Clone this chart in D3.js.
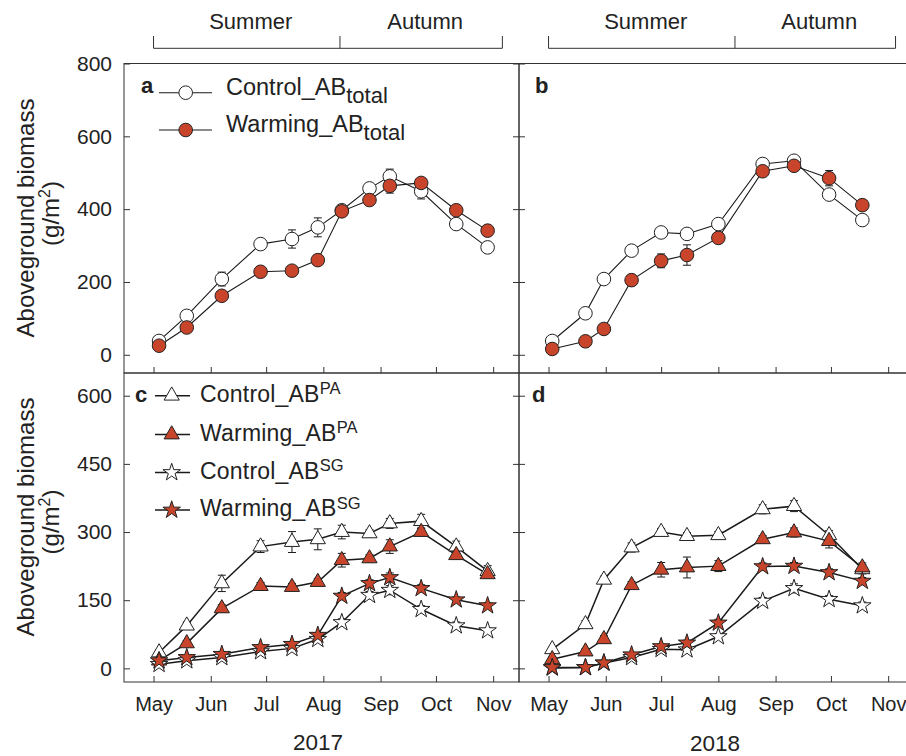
<!DOCTYPE html>
<html><head><meta charset="utf-8">
<script src="https://cdn.jsdelivr.net/npm/d3@7"></script>
<style>
body{margin:0;background:#fff}
svg{display:block}
text{font-family:"Liberation Sans",Arial,Helvetica,sans-serif;fill:#222}
</style>
</head><body>
<svg id="chart" width="906" height="756"></svg>
<script>
// ---------- data ----------
const dates2017 = ["2017-05-04","2017-05-19","2017-06-07","2017-06-28","2017-07-15","2017-07-29","2017-08-11","2017-08-26","2017-09-06","2017-09-23","2017-10-12","2017-10-29"];
const dates2018 = ["2018-05-03","2018-05-21","2018-05-31","2018-06-15","2018-07-01","2018-07-15","2018-08-01","2018-08-25","2018-09-11","2018-09-30","2018-10-18"];

const controlTotal2017 = [38,107,208,304,318,350,397,457,490,449,359,295];
const warmingTotal2017 = [25,75,162,228,231,260,394,425,464,472,397,341];
const controlTotal2018 = [38,114,208,286,336,332,359,524,533,440,370];
const warmingTotal2018 = [16,37,71,205,258,274,321,504,519,485,411];

const controlPA2017 = [35,94,187,268,278,284,300,297,319,324,268,214];
const warmingPA2017 = [17,55,132,181,179,190,238,242,268,300,249,207];
const controlSG2017 = [9,17,24,37,44,64,101,161,172,130,94,83];
const warmingSG2017 = [17,24,31,46,53,73,159,187,200,176,151,138];

const controlPA2018 = [42,97,195,266,300,291,293,350,357,293,218];
const warmingPA2018 = [20,37,64,183,217,222,225,284,299,280,222];
const controlSG2018 = [1,2,12,24,42,41,70,148,176,152,138];
const warmingSG2018 = [2,2,12,30,48,56,100,224,225,211,192];

// standard errors
const errCtrlTot2017 = [6,8,19,8,25,26,8,8,20,21,10,8];
const errWarmTot2017 = [5,6,8,8,8,8,8,8,20,8,8,8];
const errCtrlTot2018 = [5,6,8,8,8,8,8,8,12,8,8];
const errWarmTot2018 = [5,5,8,8,19,28,8,8,8,21,8];
const errCtrlPA2017 = [5,8,18,13,23,23,15,8,11,15,12,12];
const errWarmPA2017 = [4,6,8,8,8,8,15,8,15,8,8,8];
const errCtrlSG2017 = [4,4,5,5,5,6,8,8,10,8,8,6];
const errWarmSG2017 = [4,4,5,5,5,6,8,8,10,8,6,6];
const errCtrlPA2018 = [5,8,8,10,8,8,8,10,12,10,10];
const errWarmPA2018 = [5,6,8,8,16,23,12,8,10,15,10];
const errCtrlSG2018 = [3,3,4,5,5,5,6,8,10,8,8];
const errWarmSG2018 = [3,3,4,5,5,6,8,8,8,8,8];

const monthTicks = ["05-01","06-01","07-01","08-01","09-01","10-01","11-01"];
const yTicksTop = [0,200,400,600,800];
const yTicksBot = [0,150,300,450,600];
const seasonNames = ["Summer","Autumn"];
const seasonBounds = {2017:["2017-05-01","2017-08-10","2017-11-06"], 2018:["2018-05-01","2018-08-10","2018-11-05"]};
const years = [2017, 2018];

// ---------- setup ----------
const parse = d3.timeParse("%Y-%m-%d");
const warmCol = "#c8452b";
const lineCol = "#1a1a1a";
const svg = d3.select("#chart");

const xRange = {2017:[124,519], 2018:[519,914]};
const x = {};
years.forEach(y => {
  x[y] = d3.scaleTime().domain([parse(y+"-04-15"), parse(y+"-11-15")]).range(xRange[y]);
});
const yTop = d3.scaleLinear().domain([-50,800]).range([373,63.5]);
const yBot = d3.scaleLinear().domain([-30,650]).range([682,373]);

const circleSym = d3.symbol().type(d3.symbolCircle).size(145);
const triSym = d3.symbol().type(d3.symbolTriangle).size(100);
const starSym = d3.symbol().type(d3.symbolStar).size(95);

const panels = [
  {id:"a", year:2017, y:yTop, ticks:yTicksTop, top:true, labels:true, series:[
    {vals:controlTotal2017, err:errCtrlTot2017, sym:circleSym, fill:"#fff"},
    {vals:warmingTotal2017, err:errWarmTot2017, sym:circleSym, fill:warmCol}]},
  {id:"b", year:2018, y:yTop, ticks:yTicksTop, top:true, labels:false, series:[
    {vals:controlTotal2018, err:errCtrlTot2018, sym:circleSym, fill:"#fff"},
    {vals:warmingTotal2018, err:errWarmTot2018, sym:circleSym, fill:warmCol}]},
  {id:"c", year:2017, y:yBot, ticks:yTicksBot, top:false, labels:true, series:[
    {vals:controlPA2017, err:errCtrlPA2017, sym:triSym, fill:"#fff"},
    {vals:warmingPA2017, err:errWarmPA2017, sym:triSym, fill:warmCol},
    {vals:controlSG2017, err:errCtrlSG2017, sym:starSym, fill:"#fff"},
    {vals:warmingSG2017, err:errWarmSG2017, sym:starSym, fill:warmCol}]},
  {id:"d", year:2018, y:yBot, ticks:yTicksBot, top:false, labels:false, series:[
    {vals:controlPA2018, err:errCtrlPA2018, sym:triSym, fill:"#fff"},
    {vals:warmingPA2018, err:errWarmPA2018, sym:triSym, fill:warmCol},
    {vals:controlSG2018, err:errCtrlSG2018, sym:starSym, fill:"#fff"},
    {vals:warmingSG2018, err:errWarmSG2018, sym:starSym, fill:warmCol}]}
];

panels.forEach(p => {
  const xs = x[p.year], ys = p.y;
  const dates = (p.year===2017?dates2017:dates2018).map(parse);
  const [x0,x1] = xs.range();
  const [yb,yt] = ys.range();
  const g = svg.append("g");

  // x axis (ticks pointing inward)
  const xa = d3.axisBottom(xs).tickValues(monthTicks.map(m=>parse(p.year+"-"+m)))
    .tickSize(-6).tickPadding(15).tickFormat(p.top ? () => "" : d3.timeFormat("%b"));
  const xg = g.append("g").attr("transform",`translate(0,${yb})`).call(xa);
  xg.select(".domain").remove();
  xg.selectAll("line").attr("stroke","#333");
  xg.selectAll("text").attr("font-size",20).style("fill","#222");

  // y axis left
  const ya = d3.axisLeft(ys).tickValues(p.ticks).tickSize(-6).tickPadding(12)
    .tickFormat(p.labels ? d3.format("d") : () => "");
  const yg = g.append("g").attr("transform",`translate(${x0},0)`).call(ya);
  yg.select(".domain").remove();
  yg.selectAll("line").attr("stroke","#333");
  yg.selectAll("text").attr("font-size",21).style("fill","#222");
  // y axis right (inward ticks)
  const yr = d3.axisRight(ys).tickValues(p.ticks).tickSize(-6).tickFormat(() => "");
  const yrg = g.append("g").attr("transform",`translate(${x1},0)`).call(yr);
  yrg.select(".domain").remove();
  yrg.selectAll("line").attr("stroke","#333");

  // frame
  g.append("rect").attr("x",x0).attr("y",yt).attr("width",x1-x0).attr("height",yb-yt)
    .attr("fill","none").attr("stroke","#333").attr("stroke-width",1);

  // series
  p.series.forEach(s => {
    const pts = s.vals.map((v,i)=>({d:dates[i], v, e:s.err[i]}));
    const line = d3.line().x(d=>xs(d.d)).y(d=>ys(d.v));
    g.append("path").datum(pts).attr("d",line).attr("fill","none")
      .attr("stroke",lineCol).attr("stroke-width",p.top?1.1:1.5);
    const eb = g.append("g").attr("stroke",lineCol).attr("stroke-width",1);
    pts.forEach(d => {
      const cx = xs(d.d), ya1 = ys(d.v+d.e), ya2 = ys(d.v-d.e);
      eb.append("line").attr("x1",cx).attr("x2",cx).attr("y1",ya1).attr("y2",ya2);
      eb.append("line").attr("x1",cx-4).attr("x2",cx+4).attr("y1",ya1).attr("y2",ya1);
      eb.append("line").attr("x1",cx-4).attr("x2",cx+4).attr("y1",ya2).attr("y2",ya2);
    });
  });
  p.series.forEach(s => {
    g.append("g").selectAll("path").data(s.vals.map((v,i)=>({d:dates[i],v})))
      .join("path").attr("d",s.sym)
      .attr("transform",d=>`translate(${xs(d.d)},${ys(d.v)})`)
      .attr("fill",s.fill).attr("stroke","#222").attr("stroke-width",1);
  });

  // panel letter
  g.append("text").attr("x", x0 + (p.id==="a"?17:p.id==="b"?16:p.id==="c"?11:13))
    .attr("y", p.top?93:402).attr("font-size",22).attr("font-weight","bold").text(p.id);
});

// ---------- legends ----------
const legA = [{label:"Control_AB", sub:"total", fill:"#fff", y:92.7},
              {label:"Warming_AB", sub:"total", fill:warmCol, y:130}];
legA.forEach(l => {
  svg.append("line").attr("x1",159).attr("x2",212).attr("y1",l.y).attr("y2",l.y).attr("stroke",lineCol).attr("stroke-width",1.1);
  svg.append("path").attr("d",circleSym).attr("transform",`translate(185.7,${l.y})`).attr("fill",l.fill).attr("stroke","#222");
  const t = svg.append("text").attr("x",226).attr("y",l.y+2.3).attr("font-size",23.5);
  t.append("tspan").text(l.label);
  t.append("tspan").attr("dy",8).attr("font-size",22).text(l.sub);
});
const legC = [{label:"Control_AB", sup:"PA", sym:triSym, fill:"#fff", y:395.7},
              {label:"Warming_AB", sup:"PA", sym:triSym, fill:warmCol, y:434.5},
              {label:"Control_AB", sup:"SG", sym:starSym, fill:"#fff", y:472.5},
              {label:"Warming_AB", sup:"SG", sym:starSym, fill:warmCol, y:510}];
legC.forEach(l => {
  svg.append("line").attr("x1",155).attr("x2",190).attr("y1",l.y).attr("y2",l.y).attr("stroke",lineCol).attr("stroke-width",1.5);
  svg.append("path").attr("d",l.sym).attr("transform",`translate(171.7,${l.y})`).attr("fill",l.fill).attr("stroke","#222");
  const t = svg.append("text").attr("x",200).attr("y",l.y+6).attr("font-size",23).attr("letter-spacing",0.2);
  t.append("tspan").text(l.label);
  t.append("tspan").attr("dy",-7.5).attr("font-size",16.5).text(l.sup);
});

// ---------- season brackets ----------
years.forEach(yr => {
  const b = seasonBounds[yr].map(d=>x[yr](parse(d)));
  const g = svg.append("g").attr("stroke","#333").attr("stroke-width",1);
  g.append("line").attr("x1",b[0]).attr("x2",b[2]).attr("y1",48.3).attr("y2",48.3);
  b.forEach(bx => g.append("line").attr("x1",bx).attr("x2",bx).attr("y1",36).attr("y2",48.3));
  seasonNames.forEach((n,i) => {
    svg.append("text").attr("x",(b[i]+b[i+1])/2+4).attr("y",29).attr("text-anchor","middle")
      .attr("font-size",22).text(n);
  });
});

// ---------- axis titles ----------
[{cy:218, cy2:213.5},{cy:517, cy2:522}].forEach(o => {
  svg.append("text").attr("transform",`translate(33.5,${o.cy}) rotate(-90)`)
    .attr("text-anchor","middle").attr("font-size",24).text("Aboveground biomass");
  const t = svg.append("text").attr("transform",`translate(59,${o.cy2}) rotate(-90)`)
    .attr("text-anchor","middle").attr("font-size",24);
  t.append("tspan").text("(g/m");
  t.append("tspan").attr("dy",-9).attr("font-size",16).text("2");
  t.append("tspan").attr("dy",9).text(")");
});
svg.append("text").attr("x",318).attr("y",750).attr("text-anchor","middle").attr("font-size",22.5).text("2017");
svg.append("text").attr("x",715).attr("y",751).attr("text-anchor","middle").attr("font-size",22.5).text("2018");
</script>
</body></html>
